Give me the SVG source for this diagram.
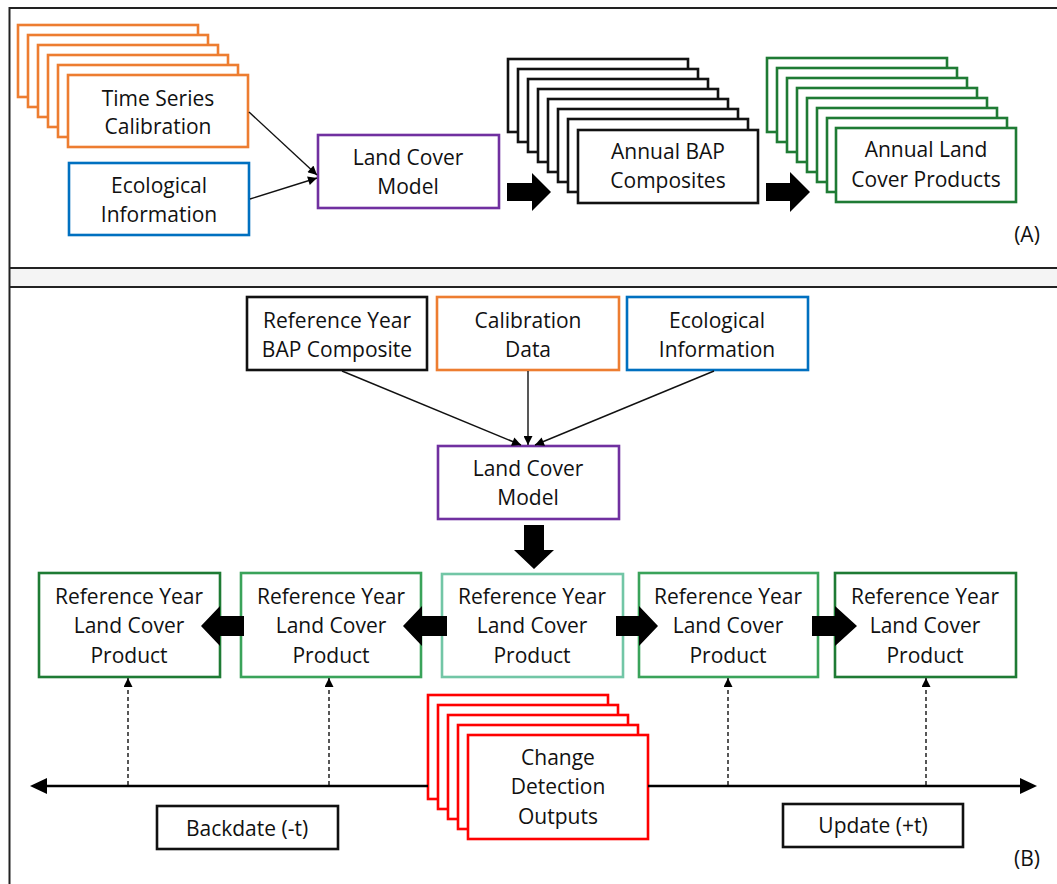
<svg xmlns="http://www.w3.org/2000/svg" width="1057" height="884" viewBox="0 0 1057 884">
<style>
text{font-family:"Open Sans","Liberation Sans",sans-serif;font-size:21px;fill:#111;text-anchor:middle}
.bx{fill:#fff;stroke-width:2.6}
.org{stroke:#ED7D31}.blu{stroke:#0070C0}.pur{stroke:#7030A0}.blk{stroke:#111}
.gA{stroke:#1E7B34}.g1{stroke:#1E7B34}.g2{stroke:#3AA35A}.g3{stroke:#72C6A6}.red{stroke:#FF0000}
.thin{stroke:#111;stroke-width:1.4;fill:none}
.dash{stroke:#111;stroke-width:1.4;fill:none;stroke-dasharray:4 3}
.blk-ar{fill:#000}
.frame{stroke:#222;stroke-width:2;fill:none}
</style>
<defs>
<marker id="ah" viewBox="0 0 10 10" refX="10" refY="5" markerWidth="10" markerHeight="9" markerUnits="userSpaceOnUse" orient="auto"><path d="M0,0 L10,5 L0,10 z" fill="#000"/></marker>
</defs>
<rect width="1057" height="884" fill="#fff"/>
<g id="frames">
<rect x="9" y="268" width="1048" height="19" fill="#f4f4f4"/>
<line class="frame" x1="9" y1="8" x2="1057" y2="8"/>
<line class="frame" x1="9" y1="268" x2="1057" y2="268"/>
<line class="frame" x1="9" y1="287" x2="1057" y2="287"/>
<line class="frame" x1="9.5" y1="7" x2="9.5" y2="884"/>
</g>
<g id="timeSeriesCalibration">
<rect class="bx org" x="18" y="25" width="180" height="72"/>
<rect class="bx org" x="28" y="35" width="180" height="72"/>
<rect class="bx org" x="38" y="45" width="180" height="72"/>
<rect class="bx org" x="48" y="55" width="180" height="72"/>
<rect class="bx org" x="58" y="65" width="180" height="72"/>
<rect class="bx org" x="68" y="75" width="180" height="72"/>
<text x="158" y="106">Time Series</text>
<text x="158" y="134">Calibration</text>
</g>
<g id="ecologicalInfoA">
<rect class="bx blu" x="69" y="163" width="180" height="72"/>
<text x="159" y="193">Ecological</text>
<text x="159" y="222">Information</text>
</g>
<g id="landCoverModelA">
<rect class="bx pur" x="318" y="135" width="181" height="73"/>
<text x="408" y="165">Land Cover</text>
<text x="408" y="194">Model</text>
</g>
<g id="annualBAP">
<rect class="bx blk" x="508" y="59" width="180" height="73"/>
<rect class="bx blk" x="518" y="69" width="180" height="73"/>
<rect class="bx blk" x="528" y="79" width="180" height="73"/>
<rect class="bx blk" x="538" y="89" width="180" height="73"/>
<rect class="bx blk" x="548" y="99" width="180" height="73"/>
<rect class="bx blk" x="558" y="109" width="180" height="73"/>
<rect class="bx blk" x="568" y="119" width="180" height="73"/>
<rect class="bx blk" x="578" y="130" width="180" height="73"/>
<text x="668" y="159">Annual BAP</text>
<text x="668" y="188">Composites</text>
</g>
<g id="annualLandCover">
<rect class="bx gA" x="767" y="58" width="180" height="74"/>
<rect class="bx gA" x="777" y="68" width="180" height="74"/>
<rect class="bx gA" x="787" y="78" width="180" height="74"/>
<rect class="bx gA" x="797" y="88" width="180" height="74"/>
<rect class="bx gA" x="807" y="98" width="180" height="74"/>
<rect class="bx gA" x="817" y="108" width="180" height="74"/>
<rect class="bx gA" x="827" y="118" width="180" height="74"/>
<rect class="bx gA" x="836" y="128" width="180" height="74"/>
<text x="926" y="157">Annual Land</text>
<text x="926" y="187">Cover Products</text>
</g>
<g id="labelA"><text x="1027" y="242">(A)</text></g>
<g id="refYearBAP">
<rect class="bx blk" x="247" y="297" width="180" height="73"/>
<text x="337" y="328">Reference Year</text>
<text x="337" y="357">BAP Composite</text>
</g>
<g id="calibrationData">
<rect class="bx org" x="437" y="297" width="182" height="73"/>
<text x="528" y="328">Calibration</text>
<text x="528" y="357">Data</text>
</g>
<g id="ecologicalInfoB">
<rect class="bx blu" x="627" y="297" width="181" height="73"/>
<text x="717" y="328">Ecological</text>
<text x="717" y="357">Information</text>
</g>
<g id="landCoverModelB">
<rect class="bx pur" x="438" y="446" width="181" height="73"/>
<text x="528" y="476">Land Cover</text>
<text x="528" y="505">Model</text>
</g>
<g id="product1">
<rect class="bx g1" x="39" y="573" width="181" height="104"/>
<text x="129" y="604">Reference Year</text>
<text x="129" y="633">Land Cover</text>
<text x="129" y="663">Product</text>
</g>
<g id="product2">
<rect class="bx g2" x="241" y="573" width="180" height="104"/>
<text x="331" y="604">Reference Year</text>
<text x="331" y="633">Land Cover</text>
<text x="331" y="663">Product</text>
</g>
<g id="product3">
<rect class="bx g3" x="442" y="574" width="181" height="103"/>
<text x="532" y="604">Reference Year</text>
<text x="532" y="633">Land Cover</text>
<text x="532" y="663">Product</text>
</g>
<g id="product4">
<rect class="bx g2" x="639" y="573" width="179" height="104"/>
<text x="728" y="604">Reference Year</text>
<text x="728" y="633">Land Cover</text>
<text x="728" y="663">Product</text>
</g>
<g id="product5">
<rect class="bx g1" x="835" y="573" width="181" height="104"/>
<text x="925" y="604">Reference Year</text>
<text x="925" y="633">Land Cover</text>
<text x="925" y="663">Product</text>
</g>
<g id="changeDetection">
<rect class="bx red" x="428" y="695" width="180" height="104"/>
<rect class="bx red" x="438" y="705" width="180" height="104"/>
<rect class="bx red" x="448" y="715" width="180" height="104"/>
<rect class="bx red" x="458" y="725" width="180" height="104"/>
<rect class="bx red" x="468" y="735" width="180" height="104"/>
<text x="558" y="765">Change</text>
<text x="558" y="794">Detection</text>
<text x="558" y="824">Outputs</text>
</g>
<g id="backdate">
<rect class="bx blk" x="157" y="806" width="181" height="43" stroke-width="2"/>
<text x="247" y="836">Backdate (-t)</text>
</g>
<g id="update">
<rect class="bx blk" x="783" y="804" width="180" height="43" stroke-width="2"/>
<text x="873" y="833">Update (+t)</text>
</g>
<g id="labelB"><text x="1027" y="866">(B)</text></g>
<g id="connectors">
<line class="thin" x1="249" y1="112" x2="317" y2="175" marker-end="url(#ah)"/>
<line class="thin" x1="250" y1="199" x2="317" y2="178" marker-end="url(#ah)"/>
<polygon class="blk-ar" points="507,183 532,183 532,173 551,192 532,211 532,201 507,201"/>
<polygon class="blk-ar" points="766,183 790,183 790,172 810,192 790,212 790,201 766,201"/>
<line class="thin" x1="342" y1="371" x2="521" y2="445" marker-end="url(#ah)"/>
<line class="thin" x1="528" y1="371" x2="528" y2="445" marker-end="url(#ah)"/>
<line class="thin" x1="714" y1="371" x2="535" y2="445" marker-end="url(#ah)"/>
<polygon class="blk-ar" points="524,525 544,525 544,550 554,550 534,569 514,550 524,550"/>
<polygon class="blk-ar" points="244,616 244,636 220,636 220,646 201,626 220,606 220,616"/>
<polygon class="blk-ar" points="447,616 447,636 422,636 422,646 403,626 422,606 422,616"/>
<polygon class="blk-ar" points="616,616 639,616 639,606 658,626 639,646 639,636 616,636"/>
<polygon class="blk-ar" points="812,616 835,616 835,606 857,626 835,646 835,636 812,636"/>
<line x1="45" y1="786" x2="428" y2="786" stroke="#000" stroke-width="2.5"/>
<line x1="648" y1="786" x2="1022" y2="786" stroke="#000" stroke-width="2.5"/>
<polygon points="30,786 47,778 47,794" fill="#000"/>
<polygon points="1037,786 1020,778 1020,794" fill="#000"/>
<line class="dash" x1="128" y1="785" x2="128" y2="678" marker-end="url(#ah)"/>
<line class="dash" x1="329" y1="785" x2="329" y2="678" marker-end="url(#ah)"/>
<line class="dash" x1="728" y1="785" x2="728" y2="678" marker-end="url(#ah)"/>
<line class="dash" x1="926" y1="785" x2="926" y2="678" marker-end="url(#ah)"/>
</g>
</svg>
